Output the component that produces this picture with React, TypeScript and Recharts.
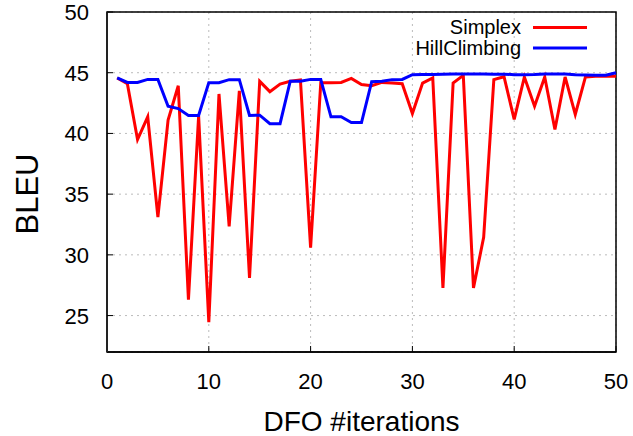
import React from 'react';
import { LineChart, Line, XAxis, YAxis, CartesianGrid, Legend, ReferenceArea, Label } from 'recharts';

// DFO iteration index
const iterations = [
  1, 2, 3, 4, 5, 6, 7, 8, 9, 10, 11, 12, 13, 14, 15, 16, 17, 18, 19, 20, 21, 22, 23, 24, 25,
  26, 27, 28, 29, 30, 31, 32, 33, 34, 35, 36, 37, 38, 39, 40, 41, 42, 43, 44, 45, 46, 47, 48, 49, 50,
];

// BLEU per iteration
const simplex = [
  44.57, 44.1, 39.5, 41.37, 33.1, 41.1, 43.93, 26.3, 41.42, 24.45, 43.25, 32.35, 43.5, 28.1, 44.29,
  43.44, 44.07, 44.3, 44.4, 30.6, 44.18, 44.18, 44.2, 44.53, 44.02, 43.93, 44.2, 44.15, 44.1, 41.64,
  44.15, 44.57, 27.27, 44.15, 44.78, 27.27, 31.45, 44.43, 44.67, 41.15, 44.65, 42.24, 44.65, 40.33,
  44.65, 41.56, 44.65, 44.7, 44.7, 44.7,
];
const hillClimbing = [
  44.57, 44.2, 44.2, 44.45, 44.45, 42.24, 42.05, 41.48, 41.48, 44.18, 44.18, 44.43, 44.43, 41.48, 41.5,
  40.8, 40.8, 44.3, 44.3, 44.45, 44.45, 41.37, 41.37, 40.9, 40.9, 44.26, 44.3, 44.43, 44.45, 44.84,
  44.85, 44.85, 44.88, 44.9, 44.9, 44.9, 44.9, 44.88, 44.88, 44.84, 44.84, 44.86, 44.9, 44.9, 44.9,
  44.84, 44.82, 44.8, 44.8, 45.0,
];

const seriesNames = ['Simplex', 'HillClimbing'];
const xTicks = [0, 10, 20, 30, 40, 50];
const yTicks = [25, 30, 35, 40, 45, 50];

const data = iterations.map((it, i) => ({ it, Simplex: simplex[i], HillClimbing: hillClimbing[i] }));

const font = '"Liberation Sans", Arial, sans-serif';

const YTick = ({ x, y, payload }: any) => (
  <text x={x} y={y} dy={8} textAnchor="end" fontSize={22} fill="#000" fontFamily={font}>
    {payload.value}
  </text>
);

const XTick = ({ x, y, payload }: any) => (
  <text x={x} y={y} dy={17} textAnchor="middle" fontSize={22} fill="#000" fontFamily={font}>
    {payload.value}
  </text>
);

const YTitle = ({ viewBox }: any) => {
  const cx = viewBox.x + 38;
  const cy = viewBox.y + viewBox.height / 2 + 12;
  return (
    <text x={cx} y={cy} transform={`rotate(-90, ${cx}, ${cy})`} textAnchor="middle" fontSize={31} fill="#000" fontFamily={font}>
      BLEU
    </text>
  );
};

// gnuplot-style key: label right-aligned, line sample to its right
const renderLegend = ({ payload }: any) => {
  const items = seriesNames.map((name) => (payload || []).find((p: any) => p.value === name)).filter(Boolean);
  return (
    <svg width={200} height={50}>
      {items.map((entry: any, i: number) => (
        <g key={entry.value}>
          <text x={121} y={24 + i * 21} textAnchor="end" fontSize={20} fill="#000" fontFamily={font}>
            {entry.value}
          </text>
          <line x1={133} x2={187} y1={17.5 + i * 20.5} y2={17.5 + i * 20.5} stroke={entry.color} strokeWidth={3} />
        </g>
      ))}
    </svg>
  );
};

export default function App() {
  return (
    <div style={{ position: 'absolute', left: 0, top: 0, background: '#fff' }}>
      <LineChart width={633} height={436} data={data} margin={{ top: 12, right: 17, bottom: 0, left: 0 }}>
        <CartesianGrid stroke="#bbb" strokeDasharray="2 4" />
        <XAxis
          dataKey="it"
          type="number"
          domain={[0, 50]}
          ticks={xTicks}
          height={84}
          tickSize={-6}
          tickMargin={26}
          tick={<XTick />}
          tickLine={{ stroke: '#000' }}
          axisLine={{ stroke: '#000', strokeWidth: 1.5 }}
        >
          <Label value="DFO #iterations" position="insideBottom" offset={5} fontSize={28} fill="#000" fontFamily={font} />
        </XAxis>
        <YAxis
          type="number"
          domain={[22, 50]}
          ticks={yTicks}
          width={107}
          tickSize={-6}
          tickMargin={24}
          tick={<YTick />}
          tickLine={{ stroke: '#000' }}
          axisLine={{ stroke: '#222', strokeWidth: 2 }}
        >
          <Label content={<YTitle />} />
        </YAxis>
        <ReferenceArea x1={0} x2={50} y1={22} y2={50} fill="none" stroke="#000" strokeWidth={1.5} />
        <Line type="linear" dataKey="Simplex" stroke="#ff0000" strokeWidth={3} dot={false} isAnimationActive={false} />
        <Line type="linear" dataKey="HillClimbing" stroke="#0000ff" strokeWidth={3} dot={false} isAnimationActive={false} />
        <Legend
          layout="vertical"
          align="center"
          verticalAlign="middle"
          content={renderLegend}
          wrapperStyle={{ top: 10, left: 400, width: 200, height: 50 }}
        />
      </LineChart>
    </div>
  );
}
